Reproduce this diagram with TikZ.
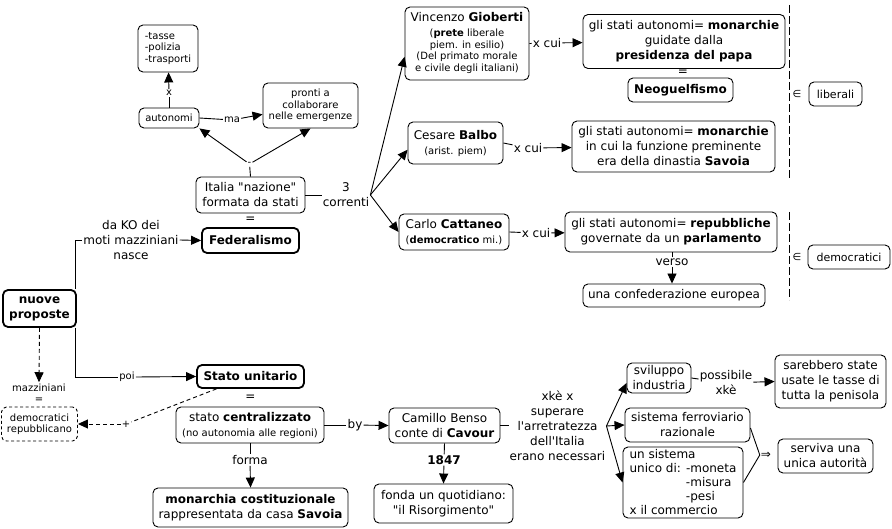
\documentclass[tikz,border=0pt]{standalone}
\usepackage{fontspec}
\setmainfont{DejaVu Sans}
\usetikzlibrary{arrows.meta,calc}
\newcommand\fmain{\fontsize{12}{15}\selectfont}
\newcommand\fsmall{\fontsize{10}{11.5}\selectfont}
\newcommand\fmid{\fontsize{11}{13}\selectfont}
\newcommand\qq{\textquotedbl}
\begin{document}
\begin{tikzpicture}[x=1pt,y=-1pt,
 box/.style={draw, rounded corners=5pt, fill=white, align=center, inner sep=1.5pt, font=\fmain, line width=0.9pt},
 thickbox/.style={box, line width=1.8pt},
 dbox/.style={box, dash pattern=on 3pt off 2.5pt},
 lbl/.style={inner sep=1pt, align=center, font=\fmain},
 slbl/.style={lbl, font=\fsmall},
 conn/.style={line width=0.9pt},
 arr/.style={conn, -{Triangle[length=10pt,width=9pt]}},
 dconn/.style={conn, dash pattern=on 4pt off 3pt},
 darr/.style={arr, dash pattern=on 4pt off 3pt},
 sep/.style={line width=0.9pt, dash pattern=on 8pt off 3pt},
 ]
\useasboundingbox[fill=white] (0,0) rectangle (892,529);

% ---------- top left
\node[box,font=\fsmall,align=left,minimum width=60pt,minimum height=47pt] (tasse) at (168,48.5) {-tasse\\-polizia\\-trasporti};
\node[box,font=\fsmall,minimum width=60pt,minimum height=20pt] (auton) at (169,118) {autonomi};
\node[box,font=\fsmall,minimum width=95pt,minimum height=45pt] (pronti) at (310.5,105.5) {pronti a\\collaborare\\nelle emergenze};
\node[box,minimum width=109pt,minimum height=36pt] (ital) at (250.5,195) {Italia \qq nazione\qq\\formata da stati};
\node[thickbox,minimum width=97pt,minimum height=25pt] (fed) at (250.5,240.5) {\textbf{Federalismo}};
\node[lbl] (eq1) at (250.5,220) {=};
\node[slbl] (dash) at (249.5,164) {-};
\node[slbl] (xl) at (169,93) {x};
\node[slbl] (ma) at (232,120) {ma};
\node[lbl] (corr) at (346,195) {3\\correnti};

\draw[conn] (ital.north) -- (dash);
\draw[arr] (dash) -- (auton.south east);
\draw[arr] (dash) -- (pronti.south);
\draw[conn] (auton) -- (xl);
\draw[arr] (xl) -- (tasse);
\draw[conn] (auton.east) -- (ma);
\draw[arr] (ma) -- (pronti);

% ---------- three currents
\node[box,minimum width=124pt,minimum height=73pt] (gio) at (467,43.5) {Vincenzo \textbf{Gioberti}\\{\fsmall\begin{tabular}[t]{@{}c@{}}(\textbf{prete} liberale\\piem. in esilio)\\(Del primato morale\\e civile degli italiani)\end{tabular}}};
\node[box,minimum width=202pt,minimum height=54pt] (mon1) at (684,41.5) {gli stati autonomi= \textbf{monarchie}\\guidate dalla\\\textbf{presidenza del papa}};
\node[lbl] (eq3) at (683,73) {=};
\node[box,minimum width=105pt,minimum height=24pt] (neog) at (680.5,90) {\textbf{Neoguelfismo}};
\node[box,minimum width=95pt,minimum height=42pt] (balbo) at (455.5,143) {Cesare \textbf{Balbo}\\\fsmall(arist. piem)};
\node[box,minimum width=203pt,minimum height=51pt] (sav1) at (673.5,146.5) {gli stati autonomi= \textbf{monarchie}\\in cui la funzione preminente\\era della dinastia \textbf{Savoia}};
\node[box,minimum width=110pt,minimum height=36pt] (catt) at (454,232) {Carlo \textbf{Cattaneo}\\\fsmall(\textbf{democratico} mi.)};
\node[box,minimum width=212pt,minimum height=40pt] (repub) at (671,232) {gli stati autonomi= \textbf{repubbliche}\\governate da un \textbf{parlamento}};
\node[box,minimum width=182pt,minimum height=23pt] (confed) at (674,295.5) {una confederazione europea};
\node[lbl] (xcui1) at (547,43) {x cui};
\node[lbl] (xcui2) at (528,148) {x cui};
\node[lbl] (xcui3) at (536,233) {x cui};
\node[lbl] (verso) at (672,262) {verso};

\draw[conn] (ital.east) -- (corr);
\draw[arr] (corr.east) -- (gio.192);
\draw[arr] (corr.east) -- (balbo.188);
\draw[arr] (corr.east) -- (catt.west);
\draw[conn] (gio.east) -- (xcui1);
\draw[arr] (xcui1) -- (mon1);
\draw[conn] (balbo.east) -- (xcui2);
\draw[arr] (xcui2) -- (sav1);
\draw[conn] (catt.east) -- (xcui3);
\draw[arr] (xcui3) -- (repub);
\draw[conn] (verso) -- (verso |- repub.south);
\draw[arr] (verso) -- (verso |- confed.north);

\draw[sep] (789,5) -- (789,178);
\draw[sep] (789,212) -- (789,300);
\node[lbl,font=\fsmall] (in1) at (797,94) {∈};
\node[box,font=\fmid,minimum width=53pt,minimum height=24pt] (liber) at (835.5,94) {liberali};
\node[lbl,font=\fsmall] (in2) at (797,257) {∈};
\node[box,font=\fmid,minimum width=82pt,minimum height=24pt] (democ) at (849,257) {democratici};

% ---------- bottom left
\node[thickbox,minimum width=73pt,minimum height=37pt] (nuove) at (39.5,308.5) {\textbf{nuove}\\\textbf{proposte}};
\node[lbl,fill=white] (dako) at (131,240) {da KO dei\\moti mazziniani\\nasce};
\node[thickbox,minimum width=107pt,minimum height=23pt] (stato) at (250.5,376.5) {\textbf{Stato unitario}};
\node[slbl] (poi) at (127,377) {poi};
\node[lbl] (eq2) at (250.5,398) {=};
\node[box,minimum width=148pt,minimum height=36pt] (central) at (250,425) {stato \textbf{centralizzato}\\\fsmall(no autonomia alle regioni)};
\node[lbl] (forma) at (250,460) {forma};
\node[box,minimum width=195pt,minimum height=39pt] (monarc) at (250.5,507.5) {\textbf{monarchia costituzionale}\\rappresentata da casa \textbf{Savoia}};
\node[slbl] (maz) at (39,393) {mazziniani\\=};
\node[dbox,font=\fsmall,minimum width=76pt,minimum height=34pt] (demrep) at (39.5,424) {democratici\\repubblicano};
\node[slbl] (plus) at (126,424) {+};

\draw[conn] ([xshift=-1.5pt]nuove.north east) |- (dako.west);
\draw[arr] (dako.east) -- (fed.west);
\draw[conn] ([xshift=-1pt]nuove.south east) |- (poi.west);
\draw[arr] (poi.east) -- (stato.west);
\draw[darr] (nuove.south) -- (maz.north);
\draw[dconn] (stato.200) -- (plus);
\draw[darr] (plus) -- (demrep.east);
\draw[conn] (central.south) -- (forma);
\draw[arr] (forma) -- (monarc.north);

% ---------- Cavour
\node[lbl] (by) at (355,425) {by};
\node[box,minimum width=111pt,minimum height=35pt] (cavour) at (444.5,425.5) {Camillo Benso\\conte di \textbf{Cavour}};
\node[lbl] (y1847) at (444,460) {\textbf{1847}};
\node[box,minimum width=139pt,minimum height=39pt] (quot) at (443.5,503.5) {fonda un quotidiano:\\\qq il Risorgimento\qq};
\node[lbl] (xke) at (557.5,426) {xkè x\\superare\\l\textquotesingle arretratezza\\dell\textquotesingle Italia\\erano necessari};
\node[box,minimum width=64pt,minimum height=30pt] (svil) at (659,378) {sviluppo\\industria};
\node[lbl] (poss) at (726,383) {possibile\\xkè};
\node[box,minimum width=111pt,minimum height=53pt] (sareb) at (830.5,381.5) {sarebbero state\\usate le tasse di\\tutta la penisola};
\node[box,minimum width=125pt,minimum height=34pt] (ferr) at (687.5,425) {sistema ferroviario\\razionale};
\node[box,align=left,inner ysep=0pt,font=\fontsize{12}{14}\selectfont,minimum width=120pt,minimum height=71pt] (unsis) at (683,482.5) {un sistema\\unico di: -moneta\\\phantom{unico di: }-misura\\\phantom{unico di: }-pesi\\x il commercio};
\node[lbl] (impl) at (766,455) {⇒};
\node[box,minimum width=95pt,minimum height=34pt] (serv) at (825.5,456) {serviva una\\unica autorità};

\draw[conn] (central.east) -- (by);
\draw[arr] (by) -- (cavour.west);
\draw[conn] (cavour.south) -- (y1847);
\draw[arr] (y1847) -- (quot.north);
\draw[conn] (cavour.east) -- (xke.west |- cavour.east);
\draw[arr] (xke.east) -- ([yshift=-5pt]svil.west);
\draw[arr] (xke.east) -- (ferr.west);
\draw[arr] (xke.east) -- (unsis.west);
\draw[conn] (svil.east) -- (poss);
\draw[arr] (poss) -- (sareb.west);
\draw[conn] ([yshift=-3pt]ferr.east) -- (impl.west);
\draw[conn] (unsis.east) -- (impl.west);
\end{tikzpicture}
\end{document}
